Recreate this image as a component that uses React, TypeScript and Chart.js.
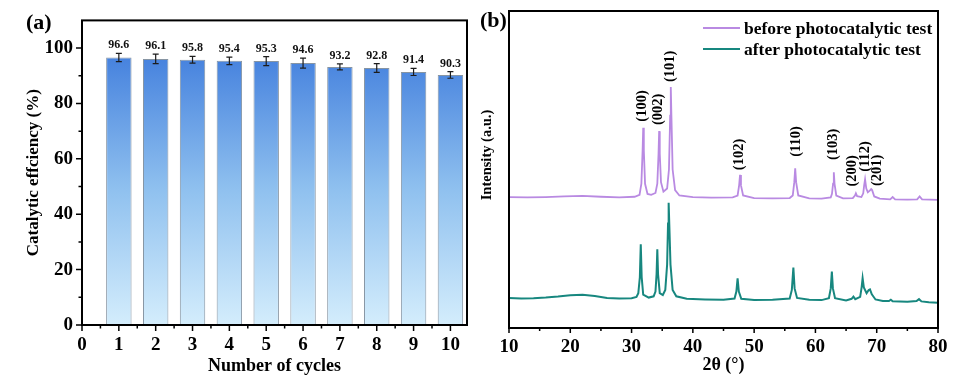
import { useEffect, useRef } from "react";
import { Chart, registerables } from "chart.js";

Chart.register(...registerables);

const SERIF = "'Liberation Serif', 'Times New Roman', serif";

// ---------- Panel (a): catalytic efficiency over cycles ----------
const cycles = [1, 2, 3, 4, 5, 6, 7, 8, 9, 10];
const efficiency = [96.6, 96.1, 95.8, 95.4, 95.3, 94.6, 93.2, 92.8, 91.4, 90.3];
const efficiencyError = [1.5, 1.7, 1.2, 1.35, 1.6, 1.8, 1.1, 1.6, 1.3, 1.2];
const cycleTicks = [0, 1, 2, 3, 4, 5, 6, 7, 8, 9, 10];
const cycleMinorTicks = [0.5, 1.5, 2.5, 3.5, 4.5, 5.5, 6.5, 7.5, 8.5, 9.5];
const efficiencyTicks = [0, 20, 40, 60, 80, 100];
const efficiencyMinorTicks = [10, 30, 50, 70, 90];

// ---------- Panel (b): XRD patterns ----------
const thetaTicks = [10, 20, 30, 40, 50, 60, 70, 80];
const thetaMinorTicks = [15, 25, 35, 45, 55, 65, 75];
const seriesLabels = ["before photocatalytic test", "after photocatalytic test"];

const beforeTest: [number, number][] = [
  [10, 41.3], [13, 41.2], [16, 41.3], [19, 41.5], [22, 41.7], [25, 41.4], [28, 41.2], [30.5, 41.4],
  [31.3, 42.0], [31.6, 45.5], [31.8, 56], [31.9, 63.2], [32.0, 56], [32.2, 45.5], [32.6, 42.3],
  [33.2, 42.0], [33.9, 42.6], [34.2, 45.5], [34.4, 55], [34.5, 62.1], [34.6, 55], [34.8, 46], [35.2, 43],
  [35.8, 44], [36.1, 50], [36.3, 67], [36.4, 76], [36.5, 67], [36.7, 50], [37.1, 43.5], [37.8, 41.8],
  [40, 41.3], [43, 41.1], [46.5, 41.2],
  [47.3, 41.8], [47.55, 45], [47.7, 48.3], [47.85, 45], [48.2, 41.8],
  [50, 41.0], [53, 40.9], [55.8, 41.0],
  [56.3, 41.8], [56.55, 46], [56.7, 50.4], [56.85, 46], [57.2, 41.8],
  [59, 40.9], [61, 40.8], [62.5, 41.2],
  [62.7, 42.3], [62.88, 45.5], [63.0, 49.1], [63.12, 45.5], [63.4, 41.8],
  [64.5, 40.9], [66.1, 41.0], [66.45, 41.8], [66.6, 42.5], [66.8, 41.6], [67.5, 41.3],
  [67.8, 42.5], [67.95, 45], [68.1, 46.9], [68.3, 44], [68.55, 42.8],
  [68.9, 43.4], [69.1, 43.8], [69.25, 43.5], [69.6, 41.5],
  [70.5, 40.8], [72.2, 40.6], [72.6, 41.3], [73.0, 40.6], [75, 40.5], [76.6, 40.6], [77.0, 41.5],
  [77.4, 40.6], [80, 40.4],
];

const afterTest: [number, number][] = [
  [10, 9.5], [12, 9.3], [14, 9.4], [16, 9.6], [18, 9.9], [20, 10.3], [22, 10.5], [24, 10.1],
  [26, 9.5], [28, 9.3], [30, 9.4], [30.8, 9.8],
  [31.1, 11], [31.35, 16], [31.5, 26.4], [31.65, 16], [31.9, 10.5],
  [32.8, 9.6], [33.6, 10.0],
  [33.9, 11.5], [34.08, 17], [34.2, 24.8], [34.32, 17], [34.6, 11],
  [35.1, 10.4],
  [35.5, 12], [35.8, 20], [35.95, 33], [36.05, 39.5], [36.15, 33], [36.35, 20], [36.7, 12], [37.3, 10],
  [39, 9.2], [42, 9.0], [45, 8.9], [46.8, 9.3],
  [47.1, 11.5], [47.3, 15.7], [47.5, 11.5], [47.9, 9.2],
  [50, 8.8], [53, 8.9], [55.8, 9.3],
  [56.15, 12], [56.4, 19.1], [56.6, 12.5], [57.0, 9.5],
  [59, 8.9], [61, 8.8], [62.2, 9.4],
  [62.5, 12.5], [62.68, 17.8], [62.85, 12.5], [63.2, 9.4],
  [65, 8.7], [65.9, 9.2], [66.2, 9.9], [66.5, 9.1], [67.3, 9.8],
  [67.55, 13], [67.7, 15.7], [67.9, 12.8], [68.35, 11],
  [68.7, 12], [68.9, 12.2], [69.2, 10.6], [69.8, 9.0],
  [71, 8.5], [72.0, 8.5], [72.3, 8.9], [72.6, 8.4], [75, 8.3], [76.5, 8.5], [76.9, 9.1], [77.3, 8.4],
  [78.5, 8.1], [80, 8.0],
];

const peakHkl = ["(100)", "(002)", "(101)", "(102)", "(110)", "(103)", "(200)", "(112)", "(201)"];
const peakLabelTheta = [31.8, 34.35, 36.25, 47.65, 56.8, 62.9, 66.0, 68.2, 70.1];
const peakLabelBase = [65.1, 64.0, 77.6, 49.8, 54.0, 53.0, 44.6, 49.3, 44.8];

const PURPLE = "#b98ae2";
const TEAL = "#17877f";

function boldFont(size: number) {
  return `bold ${size}px ${SERIF}`;
}

export default function App() {
  const refA = useRef<HTMLCanvasElement>(null);
  const refB = useRef<HTMLCanvasElement>(null);

  useEffect(() => {
    // ---------------- Chart A ----------------
    const panelAPlugin = {
      id: "panelA",
      afterDraw(chart: any) {
        const ctx = chart.ctx as CanvasRenderingContext2D;
        const { left, right, top, bottom } = chart.chartArea;
        const xs = chart.scales.x;
        const ys = chart.scales.y;
        ctx.save();
        const meta = chart.getDatasetMeta(0);
        meta.data.forEach((bar: any, i: number) => {
          const x = bar.x;
          const yHi = ys.getPixelForValue(efficiency[i] + efficiencyError[i]);
          const yLo = ys.getPixelForValue(efficiency[i] - efficiencyError[i]);
          ctx.strokeStyle = "#1c1c1c";
          ctx.lineWidth = 1.2;
          ctx.beginPath();
          ctx.moveTo(x, yHi);
          ctx.lineTo(x, yLo);
          ctx.moveTo(x - 3, yHi);
          ctx.lineTo(x + 3, yHi);
          ctx.moveTo(x - 3, yLo);
          ctx.lineTo(x + 3, yLo);
          ctx.stroke();
          ctx.fillStyle = "#111";
          ctx.font = boldFont(12);
          ctx.textAlign = "center";
          ctx.textBaseline = "bottom";
          ctx.fillText(efficiency[i].toFixed(1), x, yHi - 2);
        });
        ctx.strokeStyle = "#000";
        ctx.lineWidth = 2;
        ctx.strokeRect(left, top, right - left, bottom - top);
        ctx.lineWidth = 1.5;
        ctx.beginPath();
        efficiencyTicks.forEach((v) => {
          const y = ys.getPixelForValue(v);
          ctx.moveTo(left, y);
          ctx.lineTo(left - 6, y);
        });
        efficiencyMinorTicks.forEach((v) => {
          const y = ys.getPixelForValue(v);
          ctx.moveTo(left, y);
          ctx.lineTo(left - 3.5, y);
        });
        cycleTicks.forEach((v) => {
          const x = xs.getPixelForValue(v);
          ctx.moveTo(x, bottom);
          ctx.lineTo(x, bottom + 6);
        });
        cycleMinorTicks.forEach((v) => {
          const x = xs.getPixelForValue(v);
          ctx.moveTo(x, bottom);
          ctx.lineTo(x, bottom + 3.5);
        });
        ctx.stroke();
        ctx.fillStyle = "#000";
        ctx.font = boldFont(22);
        ctx.textAlign = "left";
        ctx.textBaseline = "middle";
        ctx.fillText("(a)", 26, 23);
        ctx.restore();
      },
    };

    const chartA = new Chart(refA.current as HTMLCanvasElement, {
      type: "bar",
      data: {
        datasets: [
          {
            label: "Catalytic efficiency",
            data: cycles.map((c, i) => ({ x: c, y: efficiency[i] })),
            backgroundColor: (c: any) => {
              const chart = c.chart;
              const ys = chart.scales.y;
              if (!chart.chartArea || !ys) return "#7fb0ea";
              const g = chart.ctx.createLinearGradient(0, ys.getPixelForValue(97), 0, ys.getPixelForValue(0));
              g.addColorStop(0, "#4682de");
              g.addColorStop(0.5, "#90c1ef");
              g.addColorStop(1, "#d4edfc");
              return g;
            },
            borderColor: "#8795a3",
            borderWidth: 1,
            barPercentage: 0.69,
            categoryPercentage: 1,
          },
        ],
      } as any,
      options: {
        responsive: false,
        animation: false,
        layout: { padding: { left: 0, right: 13, top: 13, bottom: 0 } },
        plugins: { legend: { display: false }, tooltip: { enabled: false } },
        scales: {
          x: {
            type: "linear",
            min: 0,
            max: 10.45,
            offset: false,
            grid: { display: false, drawTicks: false },
            border: { display: false },
            afterBuildTicks: (s: any) => {
              s.ticks = cycleTicks.map((v) => ({ value: v }));
            },
            afterFit: (s: any) => {
              s.height = 55;
            },
            ticks: {
              color: "#000",
              font: { family: SERIF, size: 19, weight: "bold" },
              padding: 8.5,
              maxRotation: 0,
              autoSkip: false,
            },
            title: {
              display: true,
              text: "Number of cycles",
              color: "#000",
              font: { family: SERIF, size: 18, weight: "bold" },
              padding: { top: 0, bottom: 2.5 },
            },
          },
          y: {
            type: "linear",
            min: 0,
            max: 110,
            grid: { display: false, drawTicks: false },
            border: { display: false },
            afterBuildTicks: (s: any) => {
              s.ticks = efficiencyTicks.map((v) => ({ value: v }));
            },
            afterFit: (s: any) => {
              s.width = 82;
            },
            ticks: {
              color: "#000",
              font: { family: SERIF, size: 19, weight: "bold" },
              padding: 9,
            },
            title: {
              display: true,
              text: "Catalytic effciency (%)",
              color: "#000",
              font: { family: SERIF, size: 17, weight: "bold" },
              padding: { top: 23, bottom: 0 },
            },
          },
        },
      } as any,
      plugins: [panelAPlugin],
    });

    // ---------------- Chart B ----------------
    const panelBPlugin = {
      id: "panelB",
      afterDraw(chart: any) {
        const ctx = chart.ctx as CanvasRenderingContext2D;
        const { left, right, top, bottom } = chart.chartArea;
        const xs = chart.scales.x;
        const ys = chart.scales.y;
        ctx.save();
        ctx.strokeStyle = "#000";
        ctx.lineWidth = 2;
        ctx.strokeRect(left, top, right - left, bottom - top);
        ctx.lineWidth = 1.5;
        ctx.beginPath();
        thetaTicks.forEach((v) => {
          const x = xs.getPixelForValue(v);
          ctx.moveTo(x, bottom);
          ctx.lineTo(x, bottom + 5);
        });
        thetaMinorTicks.forEach((v) => {
          const x = xs.getPixelForValue(v);
          ctx.moveTo(x, bottom);
          ctx.lineTo(x, bottom + 3);
        });
        ctx.stroke();
        const ds = chart.data.datasets;
        ds.forEach((d: any, i: number) => {
          const y = 28 + i * 21;
          ctx.strokeStyle = d.borderColor;
          ctx.lineWidth = 2;
          ctx.beginPath();
          ctx.moveTo(223, y);
          ctx.lineTo(260, y);
          ctx.stroke();
          ctx.fillStyle = "#000";
          ctx.font = boldFont(17.5);
          ctx.textAlign = "left";
          ctx.textBaseline = "middle";
          ctx.fillText(d.label, 264, y + 1);
        });
        ctx.fillStyle = "#000";
        ctx.font = boldFont(14.5);
        peakHkl.forEach((t, i) => {
          const x = xs.getPixelForValue(peakLabelTheta[i]);
          const y = ys.getPixelForValue(peakLabelBase[i]);
          ctx.save();
          ctx.translate(x, y);
          ctx.rotate(-Math.PI / 2);
          ctx.textAlign = "left";
          ctx.textBaseline = "middle";
          ctx.fillText(t, 0, 0);
          ctx.restore();
        });
        ctx.save();
        ctx.translate(7, 155);
        ctx.rotate(-Math.PI / 2);
        ctx.font = boldFont(14.5);
        ctx.textAlign = "center";
        ctx.textBaseline = "middle";
        ctx.fillText("Intensity (a.u.)", 0, 0);
        ctx.restore();
        ctx.font = boldFont(22);
        ctx.textAlign = "left";
        ctx.textBaseline = "middle";
        ctx.fillText("(b)", 0, 21);
        ctx.restore();
      },
    };

    const chartB = new Chart(refB.current as HTMLCanvasElement, {
      type: "line",
      data: {
        datasets: [
          {
            label: seriesLabels[0],
            data: beforeTest.map(([x, y]) => ({ x, y })),
            borderColor: PURPLE,
            borderWidth: 1.8,
            pointRadius: 0,
            tension: 0,
            fill: false,
          },
          {
            label: seriesLabels[1],
            data: afterTest.map(([x, y]) => ({ x, y })),
            borderColor: TEAL,
            borderWidth: 2,
            pointRadius: 0,
            tension: 0,
            fill: false,
          },
        ],
      } as any,
      options: {
        responsive: false,
        animation: false,
        layout: { padding: { left: 29, right: 34, top: 11, bottom: 0 } },
        plugins: { legend: { display: false }, tooltip: { enabled: false } },
        scales: {
          x: {
            type: "linear",
            min: 10,
            max: 80,
            grid: { display: false, drawTicks: false },
            border: { display: false },
            afterBuildTicks: (s: any) => {
              s.ticks = thetaTicks.map((v) => ({ value: v }));
            },
            afterFit: (s: any) => {
              s.height = 52;
            },
            ticks: {
              color: "#000",
              font: { family: SERIF, size: 19, weight: "bold" },
              padding: 7.5,
              maxRotation: 0,
              autoSkip: false,
            },
            title: {
              display: true,
              text: "2θ (°)",
              color: "#000",
              font: { family: SERIF, size: 18, weight: "bold" },
              padding: { top: 0, bottom: 4 },
            },
          },
          y: {
            type: "linear",
            min: 0,
            max: 100,
            display: false,
          },
        },
      } as any,
      plugins: [panelBPlugin],
    });

    return () => {
      chartA.destroy();
      chartB.destroy();
    };
  }, []);

  return (
    <div style={{ position: "fixed", left: 0, top: 0, width: 972, height: 380, background: "#fff" }}>
      <canvas
        ref={refA}
        width={480}
        height={380}
        style={{ position: "absolute", left: 0, top: 0, width: 480, height: 380 }}
      />
      <canvas
        ref={refB}
        width={492}
        height={380}
        style={{ position: "absolute", left: 480, top: 0, width: 492, height: 380 }}
      />
    </div>
  );
}
